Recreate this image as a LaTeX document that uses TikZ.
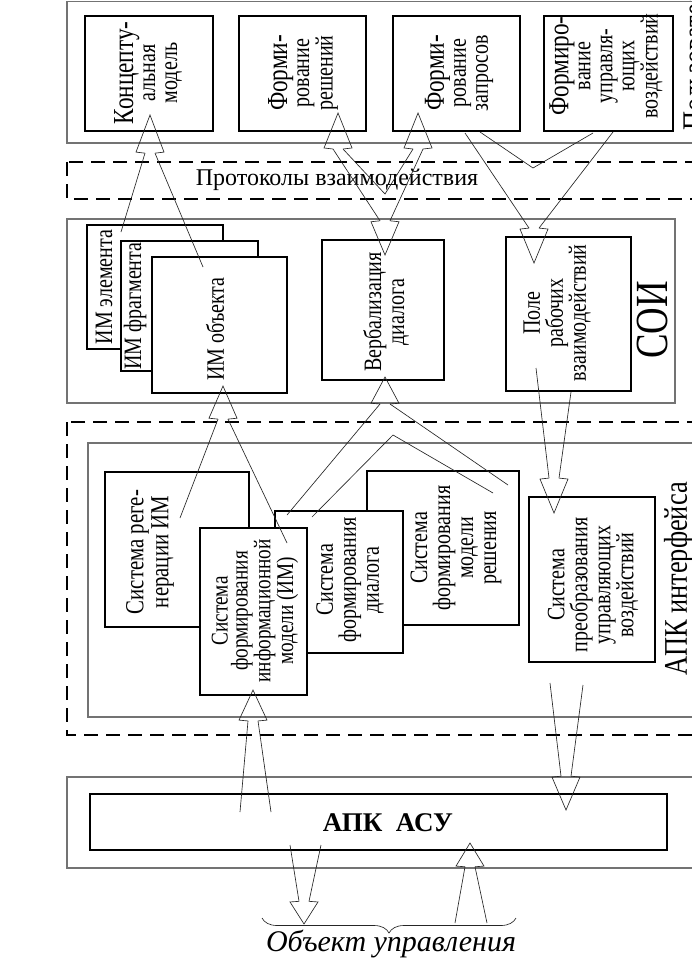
\documentclass[tikz,border=0pt]{standalone}
\usepackage{fontspec}
\setmainfont{Liberation Serif}
\newfontfamily\rotf[FakeStretch=0.8]{Liberation Serif}
\usetikzlibrary{decorations.pathreplacing}
\tikzset{
  tbox/.style={draw=black, line width=2.6pt, fill=white, inner sep=0pt, outer sep=0pt, anchor=north west},
  gframe/.style={draw=black!55, line width=1.2pt},
  dframe/.style={draw=black, line width=2.6pt, dash pattern=on 14pt off 8pt},
  rtxt/.style={rotate=90, align=center, inner sep=0pt, font=\rotf\fontsize{25}{23}\selectfont},
  rtxts/.style={rotate=90, align=center, inner sep=0pt, font=\rotf\fontsize{25}{22}\selectfont},
  arrl/.style={draw=black!85, line width=0.65pt, line join=miter},
  hup/.pic={\draw[arrl] (-5,36) coordinate (-l) -- (-14,35) -- (0,0) -- (14,35) -- (5,36) coordinate (-r);},
  hdown/.pic={\draw[arrl] (-5,-36) coordinate (-l) -- (-14,-35) -- (0,0) -- (14,-35) -- (5,-36) coordinate (-r);},
}
\newcommand{\fl}[1]{{\fontsize{29}{23}\selectfont #1}}
\begin{document}
\begin{tikzpicture}[x=1pt,y=-1pt]
\useasboundingbox (0,0) rectangle (692,960);
\clip (0,0) rectangle (692,960);
\fill[white] (0,0) rectangle (692,960);

% frames
\draw[gframe] (67,1.5) rectangle (720,143);
\draw[dframe] (67,162) rectangle (720,199);
\draw[gframe] (67,219) rectangle (675,403);
\draw[dframe] (67,422) rectangle (720,735);
\draw[gframe] (88,443) rectangle (720,717);
\draw[gframe] (67,777) rectangle (720,868);

% top row
\node[tbox, minimum width=128pt, minimum height=115pt] (A) at (85,16) {};
\node[tbox, minimum width=127pt, minimum height=115pt] (B) at (239,16) {};
\node[tbox, minimum width=127pt, minimum height=115pt] (C) at (393,16) {};
\node[tbox, minimum width=129pt, minimum height=115pt] (D) at (544,16) {};
\node[rtxts] (tA) at (148,73) {\fl{Концепту-}\\альная\\модель};
\node[rtxts] (tB) at (303,73) {\fl{Форми-}\\рование\\решений};
\node[rtxts] (tC) at (459,73) {\fl{Форми-}\\рование\\запросов};
\node[rtxts] (tD) at (606,66) {\fl{Формиро-}\\вание\\управля-\\ющих\\воздействий};
\node[rotate=90, anchor=base west, inner sep=0pt, font=\rotf\fontsize{33}{35}\selectfont] (user) at (705,131) {Пользователь};

\node[font=\fontsize{24}{26}\selectfont] (prot) at (337,180) {Протоколы взаимодействия};

% SOI
\node[tbox, minimum width=136pt, minimum height=124pt] (ime) at (87,225) {};
\node[rtxt] (time) at (104,287) {ИМ элемента};
\node[tbox, minimum width=137pt, minimum height=130pt] (imf) at (121,241) {};
\node[rtxt] (timf) at (135,306) {ИМ фрагмента};
\node[tbox, minimum width=135pt, minimum height=136pt] (imo) at (152,257) {};
\node[rtxt] (timo) at (215,329) {ИМ объекта};
\node[tbox, minimum width=122pt, minimum height=140pt] (verb) at (322,240) {};
\node[rtxt] (tverb) at (386,312) {Вербализация\\диалога};
\node[tbox, minimum width=125pt, minimum height=154pt] (pole) at (506,237) {};
\node[rtxt] (tpole) at (557,313) {Поле\\рабочих\\взаимодействий};
\node[rotate=90, inner sep=0pt, font=\rotf\fontsize{46}{48}\selectfont] (soi) at (652,320) {СОИ};

% APK interface
\node[tbox, minimum width=152pt, minimum height=154pt] (mr) at (367,471) {};
\node[rtxt] (tmr) at (456,548) {Система\\формирования\\модели\\решения};
\node[tbox, minimum width=144pt, minimum height=155pt] (reg) at (105,472) {};
\node[rtxt, font=\rotf\fontsize{26}{25}\selectfont] (treg) at (150,552) {Система реге-\\нерации ИМ};
\node[tbox, minimum width=128pt, minimum height=142pt] (dia) at (275,511) {};
\node[rtxt] (tdia) at (350,580) {Система\\формирования\\диалога};
\node[tbox, minimum width=107pt, minimum height=167pt] (fim) at (200,528) {};
\node[rtxt, font=\rotf\fontsize{24}{20}\selectfont] (tfim) at (255,611) {Система\\формирования\\информационной\\модели (ИМ)};
\node[tbox, minimum width=126pt, minimum height=165pt] (pr) at (529,497) {};
\node[rtxt] (tpr) at (593,585) {Система\\преобразования\\управляющих\\воздействий};
\node[rotate=90, inner sep=0pt, font=\rotf\fontsize{33}{35}\selectfont] (apki) at (679,579) {АПК интерфейса};

% APK ASU
\node[tbox, minimum width=577pt, minimum height=56pt] (asu) at (90,794) {};
\node[font=\bfseries\fontsize{27}{29}\selectfont] (tasu) at (388,823) {АПК~~АСУ};

% object
\draw[arrl, decorate, decoration={brace, amplitude=15pt, mirror}] (262,918) coordinate (br1) -- (516,918) coordinate (br2);
\node[font=\itshape\fontsize{30}{32}\selectfont] (obj) at (391,944) {Объект управления};

% arrows
\coordinate (tA1) at (121,232); \coordinate (tA2) at (203,267);
\pic[yscale=1.06] (hA) at (150,115) {hup};
\draw[arrl] (hA-l) -- (tA1); \draw[arrl] (hA-r) -- (tA2);

\pic (hB) at (338,113) {hup};
\pic (hC) at (418,113) {hup};
\pic[yscale=0.95] (hV) at (385,255) {hdown};
\coordinate (vBC) at (385,194);
\draw[arrl] (hB-l) -- (hV-l);
\draw[arrl] (hB-r) -- (vBC) -- (hC-l);
\draw[arrl] (hC-r) -- (hV-r);

\coordinate (p1) at (465,133); \coordinate (p2) at (480,132);
\coordinate (p3) at (593,133); \coordinate (p4) at (613,132);
\coordinate (vP) at (533,168);
\pic[yscale=0.97] (hP) at (534,263) {hdown};
\draw[arrl] (p1) -- (hP-l);
\draw[arrl] (p2) -- (vP) -- (p3);
\draw[arrl] (p4) -- (hP-r);

\coordinate (o1) at (180,518); \coordinate (o2) at (287,543);
\pic[yscale=0.92] (hO) at (223,386) {hup};
\draw[arrl] (hO-l) -- (o1); \draw[arrl] (hO-r) -- (o2);

\coordinate (w1) at (287,515); \coordinate (w2) at (312,517);
\coordinate (w3) at (493,493); \coordinate (w4) at (508,485);
\coordinate (vW) at (393,435);
\pic[yscale=0.75] (hW) at (385,377) {hup};
\draw[arrl] (hW-l) -- (w1);
\draw[arrl] (w2) -- (vW) -- (w3);
\draw[arrl] (hW-r) -- (w4);

\coordinate (r1) at (536,368); \coordinate (r2) at (571,392);
\pic[yscale=0.97] (hR) at (554,513) {hdown};
\draw[arrl] (r1) -- (hR-l); \draw[arrl] (r2) -- (hR-r);

\coordinate (s1) at (550,683); \coordinate (s2) at (583,685);
\pic[yscale=0.94] (hS) at (566,810) {hdown};
\draw[arrl] (s1) -- (hS-l); \draw[arrl] (s2) -- (hS-r);

\coordinate (i1) at (240,812); \coordinate (i2) at (271,812);
\pic[yscale=0.86] (hI) at (253,690) {hup};
\draw[arrl] (hI-l) -- (i1); \draw[arrl] (hI-r) -- (i2);

\coordinate (d1) at (290,845); \coordinate (d2) at (321,845);
\pic[yscale=0.63] (hT) at (304,924) {hdown};
\draw[arrl] (d1) -- (hT-l); \draw[arrl] (d2) -- (hT-r);

\coordinate (u1) at (455,923); \coordinate (u2) at (487,923);
\pic[yscale=0.66] (hU) at (470,843) {hup};
\draw[arrl] (hU-l) -- (u1); \draw[arrl] (hU-r) -- (u2);
\end{tikzpicture}
\end{document}
